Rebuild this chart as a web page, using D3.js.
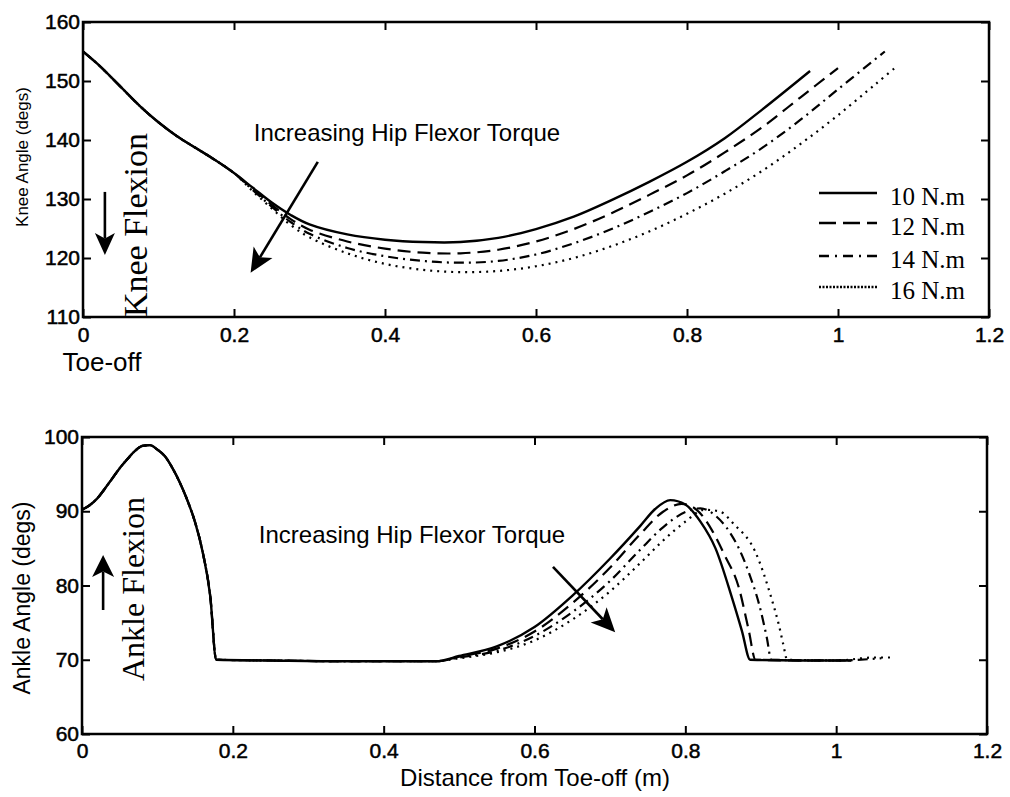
<!DOCTYPE html>
<html>
<head>
<meta charset="utf-8">
<script src="https://d3js.org/d3.v7.min.js"></script>
<style>
  body { margin: 0; background: #fff; }
  svg text { font-family: "Liberation Sans", Arial, sans-serif; fill: #000; }
  svg text.serif { font-family: "Liberation Serif", "Times New Roman", serif; }
</style>
</head>
<body>
<div id="chart"></div>
<script>
// ---- data ----
const xTicks = [0, 0.2, 0.4, 0.6, 0.8, 1, 1.2];
const kneeTicks = [110, 120, 130, 140, 150, 160];
const ankleTicks = [60, 70, 80, 90, 100];
const torques = ["10 N.m", "12 N.m", "14 N.m", "16 N.m"];
const dashes = [null, "13,7", "10,5,2,5", "2,5"];

// knee angle (degs) vs distance from toe-off (m)
const kneeStart = [[0,155],[0.02,152.8],[0.05,149],[0.075,145.8],[0.1,143],[0.125,140.6],[0.15,138.6],[0.175,136.6],[0.2,134.4]];
const knee10 = kneeStart.concat([[0.225,131.9],[0.25,129.4],[0.275,127.3],[0.3,125.7],[0.35,124],[0.4,123.1],[0.45,122.7],[0.5,122.7],[0.55,123.4],[0.6,124.9],[0.65,127],[0.7,129.8],[0.75,132.9],[0.8,136.3],[0.85,140.3],[0.9,145.2],[0.963,151.7]]);
const knee12 = kneeStart.concat([[0.225,131.7],[0.25,129],[0.275,126.6],[0.3,124.8],[0.35,122.8],[0.4,121.6],[0.45,120.9],[0.5,120.8],[0.55,121.4],[0.6,122.8],[0.65,124.9],[0.7,127.6],[0.75,130.7],[0.8,134],[0.85,137.9],[0.9,142.2],[0.95,147.2],[1.0,152.2]]);
const knee14 = kneeStart.concat([[0.225,131.5],[0.25,128.7],[0.275,126.1],[0.3,124.1],[0.35,121.7],[0.4,120.3],[0.45,119.5],[0.5,119.2],[0.55,119.5],[0.6,120.6],[0.65,122.5],[0.7,124.9],[0.75,127.8],[0.8,131],[0.85,134.7],[0.9,138.7],[0.95,143.4],[1.0,148.6],[1.062,155]]);
const knee16 = kneeStart.concat([[0.225,131.3],[0.25,128.4],[0.275,125.6],[0.3,123.5],[0.35,120.8],[0.4,119],[0.45,118],[0.5,117.6],[0.55,117.8],[0.6,118.6],[0.65,120],[0.7,122],[0.75,124.5],[0.8,127.5],[0.85,130.9],[0.9,134.8],[0.95,139.3],[1.0,144.2],[1.05,149.5],[1.078,152.5]]);

// ankle angle (degs) vs distance from toe-off (m)
const ankleStart = [[0,90.2],[0.01,90.8],[0.02,91.7],[0.03,93],[0.04,94.4],[0.05,95.8],[0.06,97],[0.07,98.1],[0.08,98.8],[0.09,98.9],[0.1,98.3],[0.11,97.4],[0.12,95.8],[0.13,93.8],[0.14,91.4],[0.15,88.5],[0.16,84.5],[0.17,78.6],[0.178,70],[0.25,69.9],[0.35,69.8],[0.47,69.8]];
const ankle10 = ankleStart.concat([[0.5,70.5],[0.55,71.8],[0.6,74.4],[0.65,78.6],[0.7,83.6],[0.74,88],[0.76,90.3],[0.78,91.5],[0.8,90.9],[0.82,88.6],[0.84,85],[0.862,78.3],[0.875,73.9],[0.886,70],[0.95,69.9],[1.02,69.9]]);
const ankle12 = ankleStart.concat([[0.5,70.4],[0.55,71.5],[0.6,73.8],[0.65,77.6],[0.7,82.4],[0.74,86.9],[0.77,89.9],[0.795,91],[0.815,90.2],[0.835,87.5],[0.852,84.1],[0.871,79.7],[0.884,74],[0.893,70],[0.95,69.9],[1.02,69.9]]);
const ankle14 = ankleStart.concat([[0.5,70.3],[0.55,71.2],[0.6,73.2],[0.65,76.4],[0.7,80.6],[0.74,84.8],[0.77,87.8],[0.8,89.9],[0.82,90.4],[0.84,89.4],[0.86,87],[0.871,85],[0.885,81.5],[0.898,77.4],[0.908,73],[0.914,70],[1.0,69.9],[1.06,70.2]]);
const ankle16 = ankleStart.concat([[0.5,70.2],[0.55,71],[0.6,72.6],[0.65,75.4],[0.7,79.2],[0.74,83],[0.77,86],[0.8,88.6],[0.825,90.2],[0.845,90],[0.865,88.2],[0.892,84.7],[0.915,78],[0.924,74.7],[0.93,72],[0.935,70],[1.0,69.9],[1.05,70.3],[1.078,70.3]]);

// ---- drawing ----
const svg = d3.select("#chart").append("svg")
    .attr("width", 1010)
    .attr("height", 797);

function panel(opt) {
  var x = d3.scaleLinear().domain([0, 1.2]).range([opt.left, opt.right]);
  var y = d3.scaleLinear().domain(opt.yDomain).range([opt.bottom, opt.top]);
  var g = svg.append("g");

  // bottom + left axes with labels, ticks pointing in
  g.append("g")
      .attr("transform", "translate(0," + opt.bottom + ")")
      .call(d3.axisBottom(x).tickValues(xTicks).tickSize(-8).tickPadding(opt.xPad).tickFormat(d => String(d)));
  g.append("g")
      .attr("transform", "translate(" + opt.left + ",0)")
      .call(d3.axisLeft(y).tickValues(opt.yTicks).tickSize(-8).tickPadding(3));
  // top + right: ticks only
  g.append("g")
      .attr("transform", "translate(0," + opt.top + ")")
      .call(d3.axisTop(x).tickValues(xTicks).tickSize(-8).tickFormat(""));
  g.append("g")
      .attr("transform", "translate(" + opt.right + ",0)")
      .call(d3.axisRight(y).tickValues(opt.yTicks).tickSize(-8).tickFormat(""));

  g.selectAll(".domain").remove();
  g.selectAll(".tick line").attr("stroke", "#000").attr("stroke-width", 2);
  g.selectAll(".tick text")
      .style("font-size", "21px")
      .style("font-family", "'Liberation Sans', Arial, sans-serif")
      .attr("stroke", "#000").attr("stroke-width", 0.5);

  g.append("rect")
      .attr("x", opt.left).attr("y", opt.top)
      .attr("width", opt.right - opt.left).attr("height", opt.bottom - opt.top)
      .attr("fill", "none").attr("stroke", "#000").attr("stroke-width", 2.5);

  var line = d3.line()
      .x(d => x(d[0]))
      .y(d => y(d[1]))
      .curve(opt.curve);

  opt.series.forEach(function(s, i) {
    g.append("path")
        .attr("d", line(s))
        .attr("fill", "none")
        .attr("stroke", "#000")
        .attr("stroke-width", i == 0 ? 2.4 : 2.2)
        .attr("stroke-dasharray", dashes[i]);
  });
  return {x: x, y: y, g: g};
}

function arrow(g, x1, y1, x2, y2, len, half) {
  var ang = Math.atan2(y2 - y1, x2 - x1);
  var bx = x2 - len * Math.cos(ang), by = y2 - len * Math.sin(ang);
  var nx = bx + 0.25 * len * Math.cos(ang), ny = by + 0.25 * len * Math.sin(ang);
  g.append("line")
      .attr("x1", x1).attr("y1", y1).attr("x2", nx).attr("y2", ny)
      .attr("stroke", "#000").attr("stroke-width", 2.6);
  var px = -Math.sin(ang) * half, py = Math.cos(ang) * half;
  g.append("path")
      .attr("d", "M" + x2 + "," + y2 +
                 "L" + (bx + px) + "," + (by + py) +
                 "L" + nx + "," + ny +
                 "L" + (bx - px) + "," + (by - py) + "Z")
      .attr("fill", "#000");
}

// top: knee
var kneePanel = panel({
  left: 83, right: 989, top: 22, bottom: 317,
  yDomain: [110, 160], yTicks: kneeTicks, xPad: 10,
  curve: d3.curveCatmullRom,
  series: [knee10, knee12, knee14, knee16]
});

// bottom: ankle
var anklePanel = panel({
  left: 82, right: 987, top: 437, bottom: 734,
  yDomain: [60, 100], yTicks: ankleTicks, xPad: 9,
  curve: d3.curveMonotoneX,
  series: [ankle10, ankle12, ankle14, ankle16]
});

// axis titles
svg.append("text")
    .attr("transform", "translate(22,157) rotate(-90)")
    .attr("text-anchor", "middle").attr("dominant-baseline", "central")
    .style("font-size", "17px")
    .text("Knee Angle (degs)");
svg.append("text")
    .attr("transform", "translate(22,598) rotate(-90)")
    .attr("text-anchor", "middle").attr("dominant-baseline", "central")
    .style("font-size", "23px")
    .text("Ankle Angle (degs)");
svg.append("text")
    .attr("x", 535).attr("y", 786)
    .attr("text-anchor", "middle")
    .style("font-size", "24px")
    .text("Distance from Toe-off (m)");
svg.append("text")
    .attr("x", 102).attr("y", 371)
    .attr("text-anchor", "middle")
    .style("font-size", "26px")
    .text("Toe-off");

// annotations
svg.append("text")
    .attr("x", 407).attr("y", 141)
    .attr("text-anchor", "middle")
    .style("font-size", "24px")
    .text("Increasing Hip Flexor Torque");
svg.append("text")
    .attr("x", 412).attr("y", 543)
    .attr("text-anchor", "middle")
    .style("font-size", "24px")
    .text("Increasing Hip Flexor Torque");

svg.append("text").attr("class", "serif")
    .attr("transform", "translate(135,225) rotate(-90)")
    .attr("text-anchor", "middle").attr("dominant-baseline", "central")
    .style("font-size", "34px")
    .text("Knee Flexion");
svg.append("text").attr("class", "serif")
    .attr("transform", "translate(133,589) rotate(-90)")
    .attr("text-anchor", "middle").attr("dominant-baseline", "central")
    .style("font-size", "32px")
    .text("Ankle Flexion");

// arrows (positions in data units)
arrow(kneePanel.g, kneePanel.x(0.311), kneePanel.y(136.3), kneePanel.x(0.222), kneePanel.y(117.5), 24, 11);
arrow(kneePanel.g, kneePanel.x(0.029), kneePanel.y(131.2), kneePanel.x(0.029), kneePanel.y(120.5), 22, 10);
arrow(anklePanel.g, anklePanel.x(0.6245), anklePanel.y(82.5), anklePanel.x(0.707), anklePanel.y(73.7), 24, 11);
arrow(anklePanel.g, anklePanel.x(0.028), anklePanel.y(76.7), anklePanel.x(0.028), anklePanel.y(84.1), 22, 11);

// legend
var legend = svg.append("g");
var rowsY = [193, 223, 256, 287];
torques.forEach(function(t, i) {
  legend.append("line")
      .attr("x1", 819).attr("x2", 877)
      .attr("y1", rowsY[i]).attr("y2", rowsY[i])
      .attr("stroke", "#000")
      .attr("stroke-width", i == 0 ? 2.6 : 2.4)
      .attr("stroke-dasharray", i == 1 ? "17,7" : i == 2 ? "10,6,2,6" : i == 3 ? "2,1.5" : null);
  legend.append("text").attr("class", "serif")
      .attr("x", 890).attr("y", rowsY[i] + 12)
      .style("font-size", "25px")
      .text(t);
});
</script>
</body>
</html>
